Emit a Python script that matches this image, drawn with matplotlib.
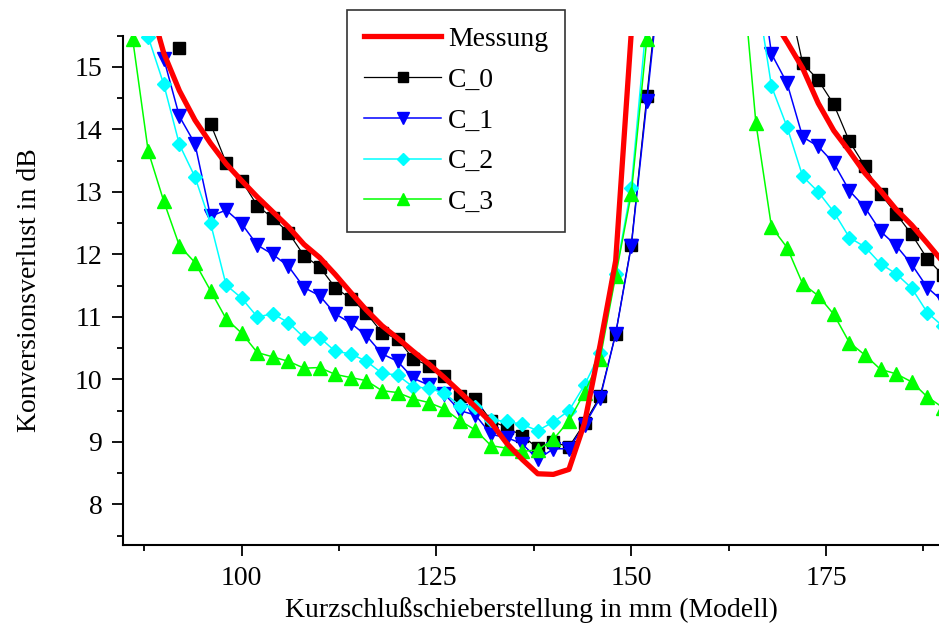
import matplotlib
matplotlib.use('Agg')
import matplotlib.pyplot as plt
from matplotlib.ticker import MultipleLocator

plt.rcParams['font.family'] = ['Liberation Serif', 'DejaVu Serif']

nan = float('nan')

# Messung (measured curve)
x_mess = [88, 90, 92, 94, 96, 98, 100, 102, 104, 106, 108, 110, 112, 114, 116, 118, 120,
          122, 124, 126, 128, 130, 132, 134, 136, 138, 140, 142, 144, 146, 148, 150,
          168, 170, 172, 174, 176, 178, 180, 182, 184, 186, 188, 190]
y_mess = [16.1, 15.22, 14.62, 14.15, 13.78, 13.45, 13.18, 12.92, 12.68, 12.44, 12.16, 11.95,
          11.68, 11.39, 11.11, 10.86, 10.66, 10.45, 10.25, 10.03, 9.80, 9.56, 9.31, 8.98,
          8.72, 8.49, 8.48, 8.56, 9.30, 10.55, 11.90, 15.55,
          15.8, 15.4, 14.98, 14.42, 13.98, 13.65, 13.30, 13.02, 12.72, 12.47, 12.18, 11.88]

# C_0 (no value at 94)
x_c0 = [92, 94, 96, 98, 100, 102, 104, 106, 108, 110, 112, 114, 116, 118, 120, 122, 124, 126,
        128, 130, 132, 134, 136, 138, 140, 142, 144, 146, 148, 150, 152, 154,
        170, 172, 174, 176, 178, 180, 182, 184, 186, 188, 190]
y_c0 = [15.31, nan, 14.09, 13.47, 13.18, 12.78, 12.58, 12.35, 11.98, 11.80, 11.47, 11.29, 11.06,
        10.75, 10.65, 10.33, 10.22, 10.05, 9.73, 9.68, 9.34, 9.23, 9.10, 8.90, 9.00, 8.92,
        9.30, 9.73, 10.73, 12.15, 14.53, 16.9,
        16.2, 15.06, 14.79, 14.40, 13.81, 13.41, 12.97, 12.65, 12.32, 11.93, 11.67]

# C_1
x_c1 = [88, 90, 92, 94, 96, 98, 100, 102, 104, 106, 108, 110, 112, 114, 116, 118, 120, 122,
        124, 126, 128, 130, 132, 134, 136, 138, 140, 142, 144, 146, 148, 150, 152, 154,
        166, 168, 170, 172, 174, 176, 178, 180, 182, 184, 186, 188, 190]
y_c1 = [16.1, 15.13, 14.21, 13.77, 12.61, 12.71, 12.49, 12.15, 12.00, 11.81, 11.47, 11.34,
        11.05, 10.90, 10.70, 10.41, 10.29, 10.02, 9.91, 9.77, 9.50, 9.43, 9.12, 9.07, 8.97,
        8.72, 8.89, 8.89, 9.27, 9.70, 10.73, 12.13, 14.45, 16.8,
        17.0, 15.21, 14.74, 13.88, 13.73, 13.46, 13.02, 12.75, 12.37, 12.14, 11.84, 11.47, 11.25]

# C_2
x_c2 = [86, 88, 90, 92, 94, 96, 98, 100, 102, 104, 106, 108, 110, 112, 114, 116, 118, 120,
        122, 124, 126, 128, 130, 132, 134, 136, 138, 140, 142, 144, 146, 148, 150, 152,
        166, 168, 170, 172, 174, 176, 178, 180, 182, 184, 186, 188, 190]
y_c2 = [16.5, 15.48, 14.72, 13.76, 13.24, 12.50, 11.51, 11.30, 11.00, 11.05, 10.91, 10.67,
        10.67, 10.45, 10.41, 10.29, 10.10, 10.07, 9.88, 9.86, 9.78, 9.58, 9.56, 9.35, 9.33,
        9.28, 9.18, 9.32, 9.50, 9.91, 10.42, 11.69, 13.07, 15.8,
        16.3, 14.69, 14.04, 13.25, 13.00, 12.68, 12.27, 12.12, 11.85, 11.69, 11.46, 11.07, 10.85]

# C_3
x_c3 = [86, 88, 90, 92, 94, 96, 98, 100, 102, 104, 106, 108, 110, 112, 114, 116, 118, 120,
        122, 124, 126, 128, 130, 132, 134, 136, 138, 140, 142, 144, 146, 148, 150, 152, 154,
        164, 166, 168, 170, 172, 174, 176, 178, 180, 182, 184, 186, 188, 190]
y_c3 = [15.45, 13.65, 12.85, 12.14, 11.87, 11.42, 10.97, 10.74, 10.43, 10.36, 10.29, 10.18,
        10.19, 10.08, 10.03, 9.98, 9.82, 9.79, 9.69, 9.63, 9.53, 9.34, 9.19, 8.94, 8.90,
        8.85, 8.87, 9.04, 9.34, 9.79, 10.33, 11.66, 12.97, 15.45, 17.5,
        16.9, 14.10, 12.44, 12.11, 11.53, 11.34, 11.04, 10.59, 10.39, 10.16, 10.09, 9.96, 9.72, 9.55]

fig = plt.figure(figsize=(9.39, 6.30), dpi=100)
ax = fig.add_axes([0.1313, 0.1349, 0.8687, 0.8084])

ax.plot(x_c0, y_c0, color='black', lw=0.9, marker='s', ms=8, mec='black', mfc='black',
        label='C_0', zorder=3)
ax.plot(x_c1, y_c1, color='#0000FF', lw=1.1, marker='v', ms=10.5, mec='#0000FF', mfc='#0000FF',
        label='C_1', zorder=4)
ax.plot(x_c2, y_c2, color='#00FFFF', lw=1.1, marker='D', ms=7.5, mec='#00FFFF', mfc='#00FFFF',
        label='C_2', zorder=5)
ax.plot(x_c3, y_c3, color='#00FF00', lw=1.1, marker='^', ms=10.5, mec='#00FF00', mfc='#00FF00',
        label='C_3', zorder=6)
ax.plot(x_mess, y_mess, color='#FF0000', lw=3.8, label='Messung', zorder=7)

ax.set_xlim(84.8, 189.5)
ax.set_ylim(7.35, 15.5)

ax.xaxis.set_major_locator(MultipleLocator(25))
ax.xaxis.set_minor_locator(MultipleLocator(12.5))
ax.yaxis.set_major_locator(MultipleLocator(1))
ax.yaxis.set_minor_locator(MultipleLocator(0.5))

ax.spines['top'].set_visible(False)
ax.spines['right'].set_visible(False)
ax.spines['left'].set_linewidth(1.5)
ax.spines['bottom'].set_linewidth(1.5)
ax.tick_params(which='major', direction='out', length=8, width=1.3, labelsize=20, pad=7)
ax.tick_params(which='minor', direction='out', length=4.5, width=1.3)

ax.set_xlabel('Kurzschlußschieberstellung in mm (Modell)', fontsize=20)
ax.set_ylabel('Konversionsverlust in dB', fontsize=20)
ax.yaxis.set_label_coords(-0.10, 0.5)
ax.xaxis.set_label_coords(0.5, -0.103)

handles, labels = ax.get_legend_handles_labels()
order = [4, 0, 1, 2, 3]
leg = ax.legend([handles[i] for i in order], [labels[i] for i in order],
                loc='upper left', bbox_to_anchor=(0.3695, 0.984), bbox_transform=fig.transFigure,
                borderaxespad=0, fontsize=20, frameon=True, fancybox=False,
                handlelength=2.8, handletextpad=0.25, labelspacing=0.55, borderpad=0.6,
                markerscale=0.85)
leg.get_frame().set_edgecolor('black')
leg.get_frame().set_linewidth(1.2)
leg.set_zorder(10)

fig.savefig('out.png', dpi=100)
